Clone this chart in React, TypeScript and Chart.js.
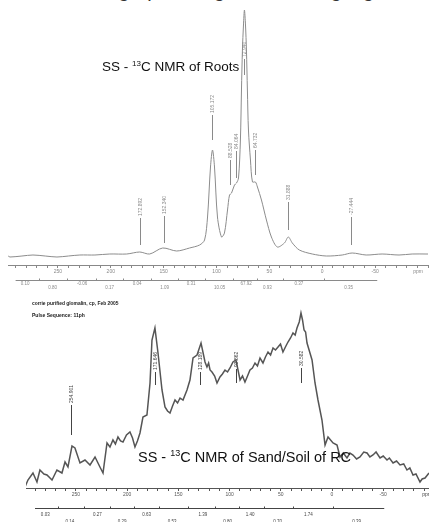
import React, { useEffect, useRef } from 'react';
import { Chart, registerables } from 'chart.js';

Chart.register(...registerables);

// ---------- Roots spectrum (top) ----------
const rootsPpm = [
  297, 295.3, 284, 273.6, 262, 250.9, 240, 229.2, 215, 200.9,
  184.9, 172.6, 163.2, 150.9, 137.7, 125.5, 116.0, 111.3, 108.5, 105.7,
  103.8, 101.9, 99.1, 95.3, 92.5, 89.6, 87.7, 85.8, 83.0, 81.1,
  79.2, 77.4, 76.4, 75.5, 74.5, 73.6, 72.6, 71.7, 70.8, 69.8,
  67.9, 66.0, 63.2, 61.3, 57.5, 52.8, 48.1, 42.5, 35.8, 32.1,
  28.3, 21.7, 9.4, -3.8, -18.9, -28.3, -41.5, -56.6, -72.6, -85,
  -98.1, -100,
];
const rootsIntensity = [
  0, -1, 0, 1, 0, -1, 0, 1, 1, 2,
  2, 4, 2, 8, 5, 8, 11, 16, 39, 89,
  106, 89, 39, 19, 23, 46, 61, 63, 71, 73,
  78, 116, 166, 206, 231, 246, 231, 206, 166, 126,
  96, 74, 74, 69, 56, 36, 19, 9, 13, 19,
  13, 6, 2, 0, 1, 3, 1, 2, 1, 2,
  2, 2,
];
const rootsPeakPpm = [172.6, 150.0, 104.7, 87.7, 82.0, 73.6, 64.0, 32.0, -27.4];
const rootsPeakText = ['172.892', '152.340', '105.172', '88.528', '84.064', '72.940', '64.732', '31.888', '-27.444'];
const rootsIntegralPpm = [281, 255, 227, 201, 175, 149, 124, 97, 72, 52, 22, -25];
const rootsIntegralText = ['0.10', '0.80', '-0.06', '0.17', '0.04', '1.09', '0.31', '10.05', '67.92', '0.93', '0.37', '0.35'];

// ---------- Sand/soil spectrum (bottom) ----------
const soilPpm = [
  299.8, 296.9, 292.0, 288.1, 285.2, 281.3, 278.3, 273.4, 268.6, 263.7,
  260.7, 257.8, 253.9, 251.0, 246.1, 241.2, 236.3, 231.4, 226.6, 223.6,
  219.7, 216.8, 213.9, 211.5, 209.0, 206.5, 204.1, 200.7, 197.3, 194.8,
  192.4, 190.0, 187.5, 184.6, 180.7, 177.7, 175.8, 172.9, 169.9, 166.0,
  163.1, 160.6, 158.2, 155.7, 153.3, 150.8, 148.4, 145.5, 141.6, 138.7,
  135.7, 131.8, 127.9, 124.0, 122.1, 120.5, 119.1, 117.2, 114.6, 112.3,
  109.4, 107.0, 104.5, 102.0, 99.6, 96.7, 93.8, 91.8, 89.8, 87.4,
  85.0, 82.5, 80.1, 77.7, 75.2, 72.8, 70.3, 67.4, 65.0, 62.5,
  60.0, 57.6, 55.2, 52.7, 50.3, 47.9, 45.5, 43.0, 40.5, 38.1,
  36.0, 34.2, 32.0, 30.3, 28.8, 27.3, 25.8, 24.4, 19.5, 16.6,
  13.7, 9.8, 6.8, 3.9, -1.0, -4.9, -7.8, -11, -14.6, -17.5,
  -20.5, -24, -27.3, -31, -34.2, -37, -40.0, -43, -46.9, -50,
  -53.7, -56, -59.6, -63, -66.4, -70, -73.2, -76, -79.1, -82,
  -85.9, -88, -90.8, -94.7,
];
const soilIntensity = [
  1, 8, 15, 6, 18, 14, 13, 8, 18, 15,
  26, 21, 42, 40, 25, 28, 23, 31, 21, 15,
  45, 41, 48, 44, 51, 47, 46, 53, 56, 50,
  41, 47, 55, 71, 73, 105, 148, 160, 135, 98,
  81, 77, 75, 82, 88, 85, 90, 88, 98, 108,
  130, 133, 145, 126, 121, 125, 118, 116, 112, 105,
  111, 114, 118, 116, 120, 126, 128, 118, 108, 112,
  106, 112, 118, 120, 125, 122, 130, 125, 131, 136,
  133, 140, 138, 141, 144, 136, 141, 146, 150, 155,
  153, 160, 166, 175, 168, 158, 156, 145, 128, 105,
  88, 68, 43, 51, 45, 43, 31, 35, 30, 35,
  33, 29, 31, 36, 35, 31, 33, 36, 30, 32,
  28, 30, 25, 27, 23, 24, 18, 20, 13, 14,
  6, 9, 10, 15,
];
const soilPeakPpm = [254.9, 172.9, 128.9, 93.8, 30.3];
const soilPeakText = ['254.901', '171.646', '128.189', '93.862', '30.582'];
const soilIntegralPpm = [280, 256, 229, 205, 181, 156, 126, 102, 80, 53, 23, -24];
const soilIntegralText = ['0.03', '0.14', '0.27', '0.29', '0.63', '0.53', '1.39', '0.80', '1.40', '0.70', '1.74', '0.39'];

const axisLabelPpm = [250, 200, 150, 100, 50, 0, -50];

const FONT = "'Liberation Sans', Arial, sans-serif";

type AnnotCfg = {
  peakPpm: number[];
  peakText: string[];
  peakAnchor: number[];
  peakLen: number[];
  labelColor: string;
  integralPpm: number[];
  integralText: string[];
  integralFrom: number;
  integralTo: number;
  integralOffset: number;
  rowOffsets: number[];
  extraText: { text: string; x: number; y: number; font: string }[];
  ppmLabelX: number;
};

function makeAnnotator(cfg: AnnotCfg) {
  return {
    id: 'annot',
    afterDatasetsDraw(chart: any) {
      const ctx = chart.ctx;
      const xs = chart.scales.x;
      const ys = chart.scales.y;
      const area = chart.chartArea;
      ctx.save();
      ctx.strokeStyle = cfg.labelColor;
      ctx.fillStyle = cfg.labelColor;
      ctx.lineWidth = 1;
      ctx.font = `5px ${FONT}`;
      cfg.peakPpm.forEach((p, i) => {
        const x = Math.round(xs.getPixelForValue(p)) + 0.5;
        const yb = ys.getPixelForValue(cfg.peakAnchor[i]);
        const yt = yb - cfg.peakLen[i];
        ctx.beginPath();
        ctx.moveTo(x, yb);
        ctx.lineTo(x, yt);
        ctx.stroke();
        ctx.save();
        ctx.translate(x, yt - 2);
        ctx.rotate(-Math.PI / 2);
        ctx.textAlign = 'left';
        ctx.textBaseline = 'middle';
        ctx.fillText(cfg.peakText[i], 0, 0);
        ctx.restore();
      });
      const iy = area.bottom + cfg.integralOffset + 0.5;
      const x1 = xs.getPixelForValue(cfg.integralFrom);
      const x2 = xs.getPixelForValue(cfg.integralTo);
      ctx.beginPath();
      ctx.moveTo(x1, iy);
      ctx.lineTo(x2, iy);
      ctx.stroke();
      for (let i = 0; i < cfg.integralPpm.length - 1; i++) {
        const mx = Math.round(xs.getPixelForValue((cfg.integralPpm[i] + cfg.integralPpm[i + 1]) / 2)) + 0.5;
        ctx.beginPath();
        ctx.moveTo(mx, iy - 2);
        ctx.lineTo(mx, iy);
        ctx.stroke();
      }
      ctx.textAlign = 'center';
      ctx.textBaseline = 'middle';
      ctx.font = `4.5px ${FONT}`;
      cfg.integralPpm.forEach((p, i) => {
        const x = xs.getPixelForValue(p);
        ctx.fillText(cfg.integralText[i], x, iy + cfg.rowOffsets[i % 2]);
      });
      ctx.font = `5px ${FONT}`;
      ctx.fillText('ppm', cfg.ppmLabelX, area.bottom + 7);
      ctx.textAlign = 'left';
      cfg.extraText.forEach((t) => {
        ctx.font = t.font;
        ctx.fillStyle = '#222';
        ctx.fillText(t.text, t.x, t.y);
      });
      ctx.restore();
    },
  };
}

function axisOptions(min: number, max: number, color: string, height: number) {
  return {
    type: 'linear',
    reverse: true,
    min,
    max,
    afterFit: (s: any) => {
      s.height = height;
    },
    ticks: {
      stepSize: 10,
      includeBounds: false,
      autoSkip: false,
      maxRotation: 0,
      maxTicksLimit: 1000,
      padding: 1,
      color,
      font: { size: 5, family: FONT },
      callback: (v: any) => (axisLabelPpm.includes(Number(v)) ? String(v) : ''),
    },
    grid: { drawOnChartArea: false, drawTicks: true, tickLength: 3, color, lineWidth: 1 },
    border: { display: true, color, width: 1 },
  };
}

function RootsChart() {
  const ref = useRef<HTMLCanvasElement>(null);
  useEffect(() => {
    if (!ref.current) return;
    const chart = new Chart(ref.current, {
      type: 'line',
      data: {
        datasets: [
          {
            data: rootsPpm.map((p, i) => ({ x: p, y: rootsIntensity[i] })),
            borderColor: '#8c8c8c',
            borderWidth: 1,
            pointRadius: 0,
            tension: 0.3,
            fill: false,
          },
        ],
      },
      options: {
        animation: false,
        responsive: false,
        devicePixelRatio: 1,
        layout: { padding: { left: 8, right: 0, top: 0, bottom: 0 } },
        plugins: { legend: { display: false }, tooltip: { enabled: false } },
        scales: {
          x: axisOptions(-100, 297.2, '#888', 35) as any,
          y: { display: false, min: -9, max: 256 },
        },
      },
      plugins: [
        makeAnnotator({
          peakPpm: rootsPeakPpm,
          peakText: rootsPeakText,
          peakAnchor: [11, 13, 116, 71, 78, 181, 81, 26, 11],
          peakLen: [27, 27, 25, 25, 27, 16, 25, 28, 28],
          labelColor: '#8a8a8a',
          integralPpm: rootsIntegralPpm,
          integralText: rootsIntegralText,
          integralFrom: 290,
          integralTo: -52,
          integralOffset: 15,
          rowOffsets: [3, 7],
          extraText: [],
          ppmLabelX: 418,
        }) as any,
      ],
    } as any);
    return () => chart.destroy();
  }, []);
  return (
    <canvas
      ref={ref}
      width={429}
      height={300}
      style={{ position: 'absolute', left: 0, top: 0, width: 429, height: 300 }}
    />
  );
}

function SoilChart() {
  const ref = useRef<HTMLCanvasElement>(null);
  useEffect(() => {
    if (!ref.current) return;
    const chart = new Chart(ref.current, {
      type: 'line',
      data: {
        datasets: [
          {
            data: soilPpm.map((p, i) => ({ x: p, y: soilIntensity[i] })),
            borderColor: '#555',
            borderWidth: 1.5,
            pointRadius: 0,
            tension: 0,
            fill: false,
          },
        ],
      },
      options: {
        animation: false,
        responsive: false,
        devicePixelRatio: 1,
        layout: { padding: { left: 26, right: 0, top: 10, bottom: 0 } },
        plugins: { legend: { display: false }, tooltip: { enabled: false } },
        scales: {
          x: axisOptions(-94.7, 298.8, '#555', 34) as any,
          y: { display: false, min: 0, max: 188 },
        },
      },
      plugins: [
        makeAnnotator({
          peakPpm: soilPeakPpm,
          peakText: soilPeakText,
          peakAnchor: [53, 103, 103, 105, 105],
          peakLen: [30, 13, 13, 14, 15],
          labelColor: '#444',
          integralPpm: soilIntegralPpm,
          integralText: soilIntegralText,
          integralFrom: 290,
          integralTo: -51,
          integralOffset: 20,
          rowOffsets: [6, 13],
          extraText: [
            { text: 'corrie purified glomalin, cp, Feb 2005', x: 32, y: 14, font: `bold 4.9px ${FONT}` },
            { text: 'Pulse Sequence: 11ph', x: 32, y: 26, font: `bold 5px ${FONT}` },
          ],
          ppmLabelX: 427,
        }) as any,
      ],
    } as any);
    return () => chart.destroy();
  }, []);
  return (
    <canvas
      ref={ref}
      width={429}
      height={232}
      style={{ position: 'absolute', left: 0, top: 290, width: 429, height: 232 }}
    />
  );
}

export default function App() {
  return (
    <div
      style={{
        position: 'absolute',
        left: 0,
        top: 0,
        width: 429,
        height: 522,
        overflow: 'hidden',
        background: '#fff',
        fontFamily: FONT,
      }}
    >
      <div
        style={{
          position: 'absolute',
          left: 6,
          top: -21,
          fontSize: 20,
          color: '#333',
          whiteSpace: 'nowrap',
        }}
      >
        Structural fingerprint of glomalin using high-field NMR imaging
      </div>
      <RootsChart />
      <SoilChart />
      <div
        style={{
          position: 'absolute',
          left: 102,
          top: 59,
          fontSize: 13.5,
          color: '#111',
          whiteSpace: 'nowrap',
          lineHeight: '16px',
        }}
      >
        SS - <sup style={{ fontSize: 8, verticalAlign: 'top', lineHeight: '10px' }}>13</sup>C NMR of Roots
      </div>
      <div
        style={{
          position: 'absolute',
          left: 138,
          top: 448,
          fontSize: 14.5,
          color: '#111',
          whiteSpace: 'nowrap',
          lineHeight: '18px',
        }}
      >
        SS - <sup style={{ fontSize: 9, verticalAlign: 'top', lineHeight: '10px' }}>13</sup>C NMR of Sand/Soil of RC
      </div>
    </div>
  );
}
